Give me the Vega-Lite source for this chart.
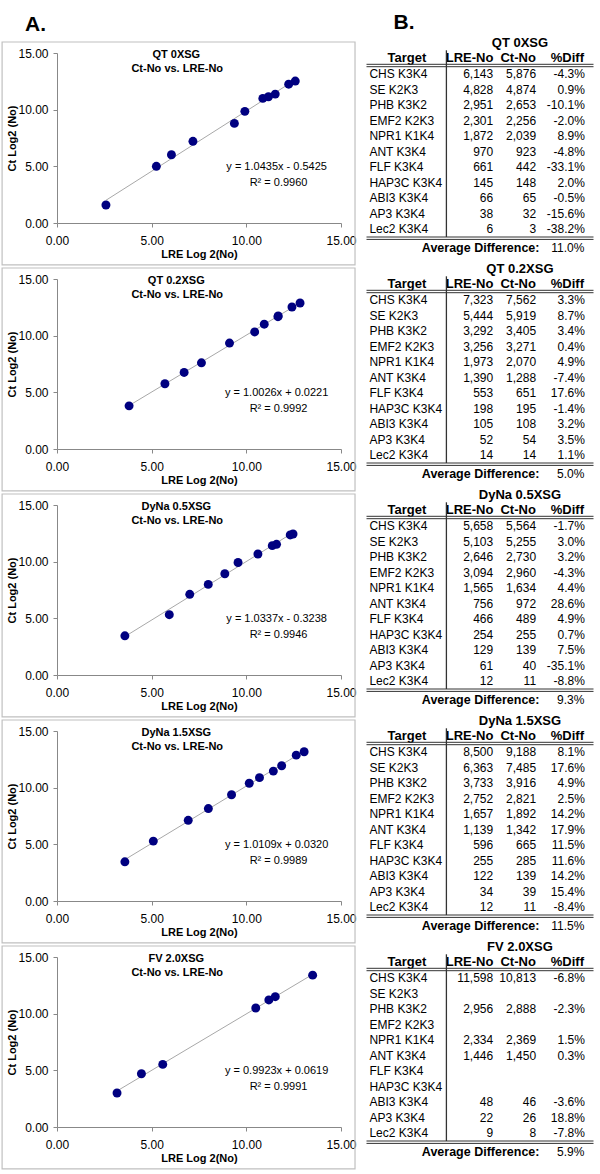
{
  "$schema": "https://vega.github.io/schema/vega-lite/v6.json",
  "background": "white",
  "padding": {"left": 1, "top": 12, "right": 0, "bottom": 0},
  "config": {"font": "Liberation Sans", "view": {"stroke": null}},
  "datasets": {
    "rows": [
      {"sample":"QT 0XSG","target":"CHS K3K4","lre":6143,"ct":5876,"diff":"-4.3%","lx":12.585,"ly":12.521},
      {"sample":"QT 0XSG","target":"SE K2K3","lre":4828,"ct":4874,"diff":"0.9%","lx":12.237,"ly":12.251},
      {"sample":"QT 0XSG","target":"PHB K3K2","lre":2951,"ct":2653,"diff":"-10.1%","lx":11.527,"ly":11.373},
      {"sample":"QT 0XSG","target":"EMF2 K2K3","lre":2301,"ct":2256,"diff":"-2.0%","lx":11.168,"ly":11.140},
      {"sample":"QT 0XSG","target":"NPR1 K1K4","lre":1872,"ct":2039,"diff":"8.9%","lx":10.870,"ly":10.994},
      {"sample":"QT 0XSG","target":"ANT K3K4","lre":970,"ct":923,"diff":"-4.8%","lx":9.922,"ly":9.850},
      {"sample":"QT 0XSG","target":"FLF K3K4","lre":661,"ct":442,"diff":"-33.1%","lx":9.369,"ly":8.788},
      {"sample":"QT 0XSG","target":"HAP3C K3K4","lre":145,"ct":148,"diff":"2.0%","lx":7.180,"ly":7.209},
      {"sample":"QT 0XSG","target":"ABI3 K3K4","lre":66,"ct":65,"diff":"-0.5%","lx":6.044,"ly":6.022},
      {"sample":"QT 0XSG","target":"AP3 K3K4","lre":38,"ct":32,"diff":"-15.6%","lx":5.248,"ly":5.000},
      {"sample":"QT 0XSG","target":"Lec2 K3K4","lre":6,"ct":3,"diff":"-38.2%","lx":2.585,"ly":1.585},
      {"sample":"QT 0.2XSG","target":"CHS K3K4","lre":7323,"ct":7562,"diff":"3.3%","lx":12.838,"ly":12.885},
      {"sample":"QT 0.2XSG","target":"SE K2K3","lre":5444,"ct":5919,"diff":"8.7%","lx":12.410,"ly":12.531},
      {"sample":"QT 0.2XSG","target":"PHB K3K2","lre":3292,"ct":3405,"diff":"3.4%","lx":11.685,"ly":11.733},
      {"sample":"QT 0.2XSG","target":"EMF2 K2K3","lre":3256,"ct":3271,"diff":"0.4%","lx":11.669,"ly":11.676},
      {"sample":"QT 0.2XSG","target":"NPR1 K1K4","lre":1973,"ct":2070,"diff":"4.9%","lx":10.946,"ly":11.015},
      {"sample":"QT 0.2XSG","target":"ANT K3K4","lre":1390,"ct":1288,"diff":"-7.4%","lx":10.441,"ly":10.331},
      {"sample":"QT 0.2XSG","target":"FLF K3K4","lre":553,"ct":651,"diff":"17.6%","lx":9.111,"ly":9.347},
      {"sample":"QT 0.2XSG","target":"HAP3C K3K4","lre":198,"ct":195,"diff":"-1.4%","lx":7.629,"ly":7.607},
      {"sample":"QT 0.2XSG","target":"ABI3 K3K4","lre":105,"ct":108,"diff":"3.2%","lx":6.714,"ly":6.755},
      {"sample":"QT 0.2XSG","target":"AP3 K3K4","lre":52,"ct":54,"diff":"3.5%","lx":5.700,"ly":5.755},
      {"sample":"QT 0.2XSG","target":"Lec2 K3K4","lre":14,"ct":14,"diff":"1.1%","lx":3.807,"ly":3.807},
      {"sample":"DyNa 0.5XSG","target":"CHS K3K4","lre":5658,"ct":5564,"diff":"-1.7%","lx":12.466,"ly":12.442},
      {"sample":"DyNa 0.5XSG","target":"SE K2K3","lre":5103,"ct":5255,"diff":"3.0%","lx":12.317,"ly":12.359},
      {"sample":"DyNa 0.5XSG","target":"PHB K3K2","lre":2646,"ct":2730,"diff":"3.2%","lx":11.370,"ly":11.415},
      {"sample":"DyNa 0.5XSG","target":"EMF2 K2K3","lre":3094,"ct":2960,"diff":"-4.3%","lx":11.595,"ly":11.531},
      {"sample":"DyNa 0.5XSG","target":"NPR1 K1K4","lre":1565,"ct":1634,"diff":"4.4%","lx":10.612,"ly":10.674},
      {"sample":"DyNa 0.5XSG","target":"ANT K3K4","lre":756,"ct":972,"diff":"28.6%","lx":9.562,"ly":9.925},
      {"sample":"DyNa 0.5XSG","target":"FLF K3K4","lre":466,"ct":489,"diff":"4.9%","lx":8.864,"ly":8.934},
      {"sample":"DyNa 0.5XSG","target":"HAP3C K3K4","lre":254,"ct":255,"diff":"0.7%","lx":7.989,"ly":7.994},
      {"sample":"DyNa 0.5XSG","target":"ABI3 K3K4","lre":129,"ct":139,"diff":"7.5%","lx":7.011,"ly":7.119},
      {"sample":"DyNa 0.5XSG","target":"AP3 K3K4","lre":61,"ct":40,"diff":"-35.1%","lx":5.931,"ly":5.322},
      {"sample":"DyNa 0.5XSG","target":"Lec2 K3K4","lre":12,"ct":11,"diff":"-8.8%","lx":3.585,"ly":3.459},
      {"sample":"DyNa 1.5XSG","target":"CHS K3K4","lre":8500,"ct":9188,"diff":"8.1%","lx":13.053,"ly":13.166},
      {"sample":"DyNa 1.5XSG","target":"SE K2K3","lre":6363,"ct":7485,"diff":"17.6%","lx":12.635,"ly":12.870},
      {"sample":"DyNa 1.5XSG","target":"PHB K3K2","lre":3733,"ct":3916,"diff":"4.9%","lx":11.866,"ly":11.935},
      {"sample":"DyNa 1.5XSG","target":"EMF2 K2K3","lre":2752,"ct":2821,"diff":"2.5%","lx":11.426,"ly":11.462},
      {"sample":"DyNa 1.5XSG","target":"NPR1 K1K4","lre":1657,"ct":1892,"diff":"14.2%","lx":10.694,"ly":10.886},
      {"sample":"DyNa 1.5XSG","target":"ANT K3K4","lre":1139,"ct":1342,"diff":"17.9%","lx":10.154,"ly":10.390},
      {"sample":"DyNa 1.5XSG","target":"FLF K3K4","lre":596,"ct":665,"diff":"11.5%","lx":9.219,"ly":9.377},
      {"sample":"DyNa 1.5XSG","target":"HAP3C K3K4","lre":255,"ct":285,"diff":"11.6%","lx":7.994,"ly":8.155},
      {"sample":"DyNa 1.5XSG","target":"ABI3 K3K4","lre":122,"ct":139,"diff":"14.2%","lx":6.931,"ly":7.119},
      {"sample":"DyNa 1.5XSG","target":"AP3 K3K4","lre":34,"ct":39,"diff":"15.4%","lx":5.087,"ly":5.285},
      {"sample":"DyNa 1.5XSG","target":"Lec2 K3K4","lre":12,"ct":11,"diff":"-8.4%","lx":3.585,"ly":3.459},
      {"sample":"FV 2.0XSG","target":"CHS K3K4","lre":11598,"ct":10813,"diff":"-6.8%","lx":13.502,"ly":13.400},
      {"sample":"FV 2.0XSG","target":"SE K2K3"},
      {"sample":"FV 2.0XSG","target":"PHB K3K2","lre":2956,"ct":2888,"diff":"-2.3%","lx":11.529,"ly":11.496},
      {"sample":"FV 2.0XSG","target":"EMF2 K2K3"},
      {"sample":"FV 2.0XSG","target":"NPR1 K1K4","lre":2334,"ct":2369,"diff":"1.5%","lx":11.189,"ly":11.210},
      {"sample":"FV 2.0XSG","target":"ANT K3K4","lre":1446,"ct":1450,"diff":"0.3%","lx":10.498,"ly":10.502},
      {"sample":"FV 2.0XSG","target":"FLF K3K4"},
      {"sample":"FV 2.0XSG","target":"HAP3C K3K4"},
      {"sample":"FV 2.0XSG","target":"ABI3 K3K4","lre":48,"ct":46,"diff":"-3.6%","lx":5.585,"ly":5.524},
      {"sample":"FV 2.0XSG","target":"AP3 K3K4","lre":22,"ct":26,"diff":"18.8%","lx":4.459,"ly":4.700},
      {"sample":"FV 2.0XSG","target":"Lec2 K3K4","lre":9,"ct":8,"diff":"-7.8%","lx":3.170,"ly":3.000}
    ],
    "summary": [
      {"sample":"QT 0XSG","avg":"11.0%","eq":"y = 1.0435x - 0.5425","r2":"R² = 0.9960"},
      {"sample":"QT 0.2XSG","avg":"5.0%","eq":"y = 1.0026x + 0.0221","r2":"R² = 0.9992"},
      {"sample":"DyNa 0.5XSG","avg":"9.3%","eq":"y = 1.0337x - 0.3238","r2":"R² = 0.9946"},
      {"sample":"DyNa 1.5XSG","avg":"11.5%","eq":"y = 1.0109x + 0.0320","r2":"R² = 0.9989"},
      {"sample":"FV 2.0XSG","avg":"5.9%","eq":"y = 0.9923x + 0.0619","r2":"R² = 0.9991"}
    ]
  },
  "spacing": 8.5,
  "hconcat": [
    {
      "data": {"name": "rows"},
      "transform": [{"lookup": "sample", "from": {"data": {"name": "summary"}, "key": "sample", "fields": ["avg", "eq", "r2"]}}],
      "facet": {"row": {"field": "sample", "type": "nominal", "sort": ["QT 0XSG","QT 0.2XSG","DyNa 0.5XSG","DyNa 1.5XSG","FV 2.0XSG"], "header": null}},
      "spacing": 56,
      "bounds": "flush",
      "resolve": {"axis": {"x": "independent", "y": "independent"}},
      "spec": {
        "width": 284,
        "height": 170,
        "layer": [
          {
            "transform": [{"filter": "datum.target === 'CHS K3K4'"}],
            "mark": {"type": "rect", "fill": "transparent", "stroke": "#c0c0c0", "strokeWidth": 1.2},
            "encoding": {
              "x": {"datum": -2.9, "type": "quantitative", "scale": {"domain": [0, 15], "nice": false, "zero": false}},
              "x2": {"datum": 15.74},
              "y": {"datum": 15.97, "type": "quantitative", "scale": {"domain": [0, 15], "nice": false, "zero": false}},
              "y2": {"datum": -3.7}
            }
          },
          {
            "transform": [{"filter": {"field": "lx", "valid": true}}, {"regression": "ly", "on": "lx", "groupby": ["sample"]}],
            "mark": {"type": "line", "color": "#a8a8a8", "strokeWidth": 1},
            "encoding": {
              "x": {"field": "lx", "type": "quantitative", "scale": {"domain": [0, 15], "nice": false, "zero": false}},
              "y": {"field": "ly", "type": "quantitative", "scale": {"domain": [0, 15], "nice": false, "zero": false}}
            }
          },
          {
            "transform": [{"filter": {"field": "lx", "valid": true}}],
            "mark": {"type": "circle", "size": 80, "color": "#000080", "opacity": 1},
            "encoding": {
              "x": {"field": "lx", "type": "quantitative", "scale": {"domain": [0, 15], "nice": false, "zero": false},
                "axis": {"title": "LRE Log 2(No)", "values": [0, 5, 10, 15], "format": ".2f", "grid": false, "domainColor": "#888888", "tickColor": "#888888", "tickSize": 4, "labelFontSize": 12, "labelColor": "black", "labelFlush": false, "labelOverlap": false, "labelPadding": 8, "titleFontSize": 11, "titleFontWeight": "bold", "titleColor": "black", "titlePadding": 2}},
              "y": {"field": "ly", "type": "quantitative", "scale": {"domain": [0, 15], "nice": false, "zero": false},
                "axis": {"title": "Ct Log2 (No)", "values": [0, 5, 10, 15], "format": ".2f", "grid": false, "domainColor": "#888888", "tickColor": "#888888", "tickSize": 4, "labelFontSize": 12, "labelColor": "black", "labelFlush": false, "labelOverlap": false, "labelPadding": 5, "titleFontSize": 11, "titleFontWeight": "bold", "titleColor": "black", "titlePadding": 0}}
            }
          },
          {
            "transform": [{"filter": "datum.target === 'CHS K3K4'"}],
            "mark": {"type": "text", "fontSize": 11, "fontWeight": "bold", "align": "center", "color": "black"},
            "encoding": {
              "text": {"field": "sample"},
              "x": {"datum": 6.3, "type": "quantitative", "scale": {"domain": [0, 15], "nice": false, "zero": false}},
              "y": {"datum": 14.83, "type": "quantitative", "scale": {"domain": [0, 15], "nice": false, "zero": false}}
            }
          },
          {
            "transform": [{"filter": "datum.target === 'CHS K3K4'"}],
            "mark": {"type": "text", "fontSize": 11, "fontWeight": "bold", "align": "center", "color": "black"},
            "encoding": {
              "text": {"value": "Ct-No vs. LRE-No"},
              "x": {"datum": 6.35, "type": "quantitative", "scale": {"domain": [0, 15], "nice": false, "zero": false}},
              "y": {"datum": 13.6, "type": "quantitative", "scale": {"domain": [0, 15], "nice": false, "zero": false}}
            }
          },
          {
            "transform": [{"filter": "datum.target === 'CHS K3K4'"}],
            "mark": {"type": "text", "fontSize": 11, "align": "center", "color": "black"},
            "encoding": {
              "text": {"field": "eq"},
              "x": {"datum": 11.6, "type": "quantitative", "scale": {"domain": [0, 15], "nice": false, "zero": false}},
              "y": {"datum": 4.97, "type": "quantitative", "scale": {"domain": [0, 15], "nice": false, "zero": false}}
            }
          },
          {
            "transform": [{"filter": "datum.target === 'CHS K3K4'"}],
            "mark": {"type": "text", "fontSize": 11, "align": "center", "color": "black"},
            "encoding": {
              "text": {"field": "r2"},
              "x": {"datum": 11.7, "type": "quantitative", "scale": {"domain": [0, 15], "nice": false, "zero": false}},
              "y": {"datum": 3.56, "type": "quantitative", "scale": {"domain": [0, 15], "nice": false, "zero": false}}
            }
          },
          {
            "transform": [{"filter": "datum.target === 'CHS K3K4' && datum.sample === 'QT 0XSG'"}],
            "mark": {"type": "text", "fontSize": 21, "fontWeight": "bold", "align": "left", "color": "black"},
            "encoding": {
              "text": {"value": "A."},
              "x": {"datum": -1.69, "type": "quantitative", "scale": {"domain": [0, 15], "nice": false, "zero": false}},
              "y": {"datum": 17.5, "type": "quantitative", "scale": {"domain": [0, 15], "nice": false, "zero": false}}
            }
          }
        ]
      }
    },
    {
      "data": {"name": "rows"},
      "transform": [{"lookup": "sample", "from": {"data": {"name": "summary"}, "key": "sample", "fields": ["avg"]}}],
      "facet": {"row": {"field": "sample", "type": "nominal", "sort": ["QT 0XSG","QT 0.2XSG","DyNa 0.5XSG","DyNa 1.5XSG","FV 2.0XSG"], "header": null}},
      "spacing": 56,
      "bounds": "flush",
      "spec": {
        "width": 227,
        "height": 170,
        "layer": [
          {
            "transform": [{"filter": "datum.target === 'CHS K3K4'"}],
            "mark": {"type": "text", "fontSize": 13, "fontWeight": "bold", "align": "center", "color": "black", "yOffset": -31.6},
            "encoding": {
              "text": {"field": "sample"},
              "x": {"datum": 67.6, "type": "quantitative", "scale": {"domain": [0, 100], "nice": false, "zero": false}, "axis": null},
              "y": {"datum": "CHS K3K4", "type": "nominal", "scale": {"type": "point", "domain": ["CHS K3K4","SE K2K3","PHB K3K2","EMF2 K2K3","NPR1 K1K4","ANT K3K4","FLF K3K4","HAP3C K3K4","ABI3 K3K4","AP3 K3K4","Lec2 K3K4"], "range": [21.3, 176.3], "padding": 0}, "axis": null}
            }
          },
          {
            "transform": [{"filter": "datum.target === 'CHS K3K4'"}],
            "mark": {"type": "text", "fontSize": 13, "fontWeight": "bold", "align": "center", "color": "black", "yOffset": -16.6},
            "encoding": {
              "text": {"value": "Target"},
              "x": {"datum": 17.8, "type": "quantitative", "scale": {"domain": [0, 100], "nice": false, "zero": false}, "axis": null},
              "y": {"datum": "CHS K3K4", "type": "nominal", "scale": {"type": "point", "domain": ["CHS K3K4","SE K2K3","PHB K3K2","EMF2 K2K3","NPR1 K1K4","ANT K3K4","FLF K3K4","HAP3C K3K4","ABI3 K3K4","AP3 K3K4","Lec2 K3K4"], "range": [21.3, 176.3], "padding": 0}, "axis": null}
            }
          },
          {
            "transform": [{"filter": "datum.target === 'CHS K3K4'"}],
            "mark": {"type": "text", "fontSize": 13, "fontWeight": "bold", "align": "right", "color": "black", "yOffset": -16.6},
            "encoding": {
              "text": {"value": "LRE-No"},
              "x": {"datum": 55.9, "type": "quantitative", "scale": {"domain": [0, 100], "nice": false, "zero": false}, "axis": null},
              "y": {"datum": "CHS K3K4", "type": "nominal", "scale": {"type": "point", "domain": ["CHS K3K4","SE K2K3","PHB K3K2","EMF2 K2K3","NPR1 K1K4","ANT K3K4","FLF K3K4","HAP3C K3K4","ABI3 K3K4","AP3 K3K4","Lec2 K3K4"], "range": [21.3, 176.3], "padding": 0}, "axis": null}
            }
          },
          {
            "transform": [{"filter": "datum.target === 'CHS K3K4'"}],
            "mark": {"type": "text", "fontSize": 13, "fontWeight": "bold", "align": "right", "color": "black", "yOffset": -16.6},
            "encoding": {
              "text": {"value": "Ct-No"},
              "x": {"datum": 74.6, "type": "quantitative", "scale": {"domain": [0, 100], "nice": false, "zero": false}, "axis": null},
              "y": {"datum": "CHS K3K4", "type": "nominal", "scale": {"type": "point", "domain": ["CHS K3K4","SE K2K3","PHB K3K2","EMF2 K2K3","NPR1 K1K4","ANT K3K4","FLF K3K4","HAP3C K3K4","ABI3 K3K4","AP3 K3K4","Lec2 K3K4"], "range": [21.3, 176.3], "padding": 0}, "axis": null}
            }
          },
          {
            "transform": [{"filter": "datum.target === 'CHS K3K4'"}],
            "mark": {"type": "text", "fontSize": 13, "fontWeight": "bold", "align": "right", "color": "black", "yOffset": -16.6},
            "encoding": {
              "text": {"value": "%Diff"},
              "x": {"datum": 95.8, "type": "quantitative", "scale": {"domain": [0, 100], "nice": false, "zero": false}, "axis": null},
              "y": {"datum": "CHS K3K4", "type": "nominal", "scale": {"type": "point", "domain": ["CHS K3K4","SE K2K3","PHB K3K2","EMF2 K2K3","NPR1 K1K4","ANT K3K4","FLF K3K4","HAP3C K3K4","ABI3 K3K4","AP3 K3K4","Lec2 K3K4"], "range": [21.3, 176.3], "padding": 0}, "axis": null}
            }
          },
          {
            "mark": {"type": "text", "fontSize": 12, "align": "left", "color": "black"},
            "encoding": {
              "text": {"field": "target"},
              "x": {"datum": 1.3, "type": "quantitative", "scale": {"domain": [0, 100], "nice": false, "zero": false}, "axis": null},
              "y": {"field": "target", "type": "nominal", "scale": {"type": "point", "domain": ["CHS K3K4","SE K2K3","PHB K3K2","EMF2 K2K3","NPR1 K1K4","ANT K3K4","FLF K3K4","HAP3C K3K4","ABI3 K3K4","AP3 K3K4","Lec2 K3K4"], "range": [21.3, 176.3], "padding": 0}, "axis": null}
            }
          },
          {
            "transform": [{"filter": "isValid(datum.lre)"}],
            "mark": {"type": "text", "fontSize": 12, "align": "right", "color": "black"},
            "encoding": {
              "text": {"field": "lre", "type": "quantitative", "format": ",d"},
              "x": {"datum": 55.8, "type": "quantitative", "scale": {"domain": [0, 100], "nice": false, "zero": false}, "axis": null},
              "y": {"field": "target", "type": "nominal", "scale": {"type": "point", "domain": ["CHS K3K4","SE K2K3","PHB K3K2","EMF2 K2K3","NPR1 K1K4","ANT K3K4","FLF K3K4","HAP3C K3K4","ABI3 K3K4","AP3 K3K4","Lec2 K3K4"], "range": [21.3, 176.3], "padding": 0}, "axis": null}
            }
          },
          {
            "transform": [{"filter": "isValid(datum.ct)"}],
            "mark": {"type": "text", "fontSize": 12, "align": "right", "color": "black"},
            "encoding": {
              "text": {"field": "ct", "type": "quantitative", "format": ",d"},
              "x": {"datum": 74.7, "type": "quantitative", "scale": {"domain": [0, 100], "nice": false, "zero": false}, "axis": null},
              "y": {"field": "target", "type": "nominal", "scale": {"type": "point", "domain": ["CHS K3K4","SE K2K3","PHB K3K2","EMF2 K2K3","NPR1 K1K4","ANT K3K4","FLF K3K4","HAP3C K3K4","ABI3 K3K4","AP3 K3K4","Lec2 K3K4"], "range": [21.3, 176.3], "padding": 0}, "axis": null}
            }
          },
          {
            "transform": [{"filter": "isValid(datum.diff)"}],
            "mark": {"type": "text", "fontSize": 12, "align": "right", "color": "black"},
            "encoding": {
              "text": {"field": "diff", "type": "nominal"},
              "x": {"datum": 96.2, "type": "quantitative", "scale": {"domain": [0, 100], "nice": false, "zero": false}, "axis": null},
              "y": {"field": "target", "type": "nominal", "scale": {"type": "point", "domain": ["CHS K3K4","SE K2K3","PHB K3K2","EMF2 K2K3","NPR1 K1K4","ANT K3K4","FLF K3K4","HAP3C K3K4","ABI3 K3K4","AP3 K3K4","Lec2 K3K4"], "range": [21.3, 176.3], "padding": 0}, "axis": null}
            }
          },
          {
            "transform": [{"filter": "datum.target === 'CHS K3K4'"}],
            "mark": {"type": "rule", "color": "#333333", "strokeWidth": 1, "yOffset": -10},
            "encoding": {
              "x": {"datum": 0, "type": "quantitative", "scale": {"domain": [0, 100], "nice": false, "zero": false}, "axis": null},
              "x2": {"datum": 100},
              "y": {"datum": "CHS K3K4", "type": "nominal", "scale": {"type": "point", "domain": ["CHS K3K4","SE K2K3","PHB K3K2","EMF2 K2K3","NPR1 K1K4","ANT K3K4","FLF K3K4","HAP3C K3K4","ABI3 K3K4","AP3 K3K4","Lec2 K3K4"], "range": [21.3, 176.3], "padding": 0}, "axis": null}
            }
          },
          {
            "transform": [{"filter": "datum.target === 'CHS K3K4'"}],
            "mark": {"type": "rule", "color": "#333333", "strokeWidth": 1, "yOffset": -7.6},
            "encoding": {
              "x": {"datum": 0, "type": "quantitative", "scale": {"domain": [0, 100], "nice": false, "zero": false}, "axis": null},
              "x2": {"datum": 100},
              "y": {"datum": "CHS K3K4", "type": "nominal", "scale": {"type": "point", "domain": ["CHS K3K4","SE K2K3","PHB K3K2","EMF2 K2K3","NPR1 K1K4","ANT K3K4","FLF K3K4","HAP3C K3K4","ABI3 K3K4","AP3 K3K4","Lec2 K3K4"], "range": [21.3, 176.3], "padding": 0}, "axis": null}
            }
          },
          {
            "transform": [{"filter": "datum.target === 'CHS K3K4'"}],
            "mark": {"type": "rule", "color": "#333333", "strokeWidth": 1, "yOffset": 7.7},
            "encoding": {
              "x": {"datum": 0, "type": "quantitative", "scale": {"domain": [0, 100], "nice": false, "zero": false}, "axis": null},
              "x2": {"datum": 100},
              "y": {"datum": "Lec2 K3K4", "type": "nominal", "scale": {"type": "point", "domain": ["CHS K3K4","SE K2K3","PHB K3K2","EMF2 K2K3","NPR1 K1K4","ANT K3K4","FLF K3K4","HAP3C K3K4","ABI3 K3K4","AP3 K3K4","Lec2 K3K4"], "range": [21.3, 176.3], "padding": 0}, "axis": null}
            }
          },
          {
            "transform": [{"filter": "datum.target === 'CHS K3K4'"}],
            "mark": {"type": "rule", "color": "#333333", "strokeWidth": 1, "yOffset": 10.1},
            "encoding": {
              "x": {"datum": 0, "type": "quantitative", "scale": {"domain": [0, 100], "nice": false, "zero": false}, "axis": null},
              "x2": {"datum": 100},
              "y": {"datum": "Lec2 K3K4", "type": "nominal", "scale": {"type": "point", "domain": ["CHS K3K4","SE K2K3","PHB K3K2","EMF2 K2K3","NPR1 K1K4","ANT K3K4","FLF K3K4","HAP3C K3K4","ABI3 K3K4","AP3 K3K4","Lec2 K3K4"], "range": [21.3, 176.3], "padding": 0}, "axis": null}
            }
          },
          {
            "transform": [{"filter": "datum.target === 'CHS K3K4'"}],
            "mark": {"type": "rule", "color": "#333333", "strokeWidth": 1.3, "yOffset": -24, "y2Offset": 7.7},
            "encoding": {
              "x": {"datum": 35.2, "type": "quantitative", "scale": {"domain": [0, 100], "nice": false, "zero": false}, "axis": null},
              "y": {"datum": "CHS K3K4", "type": "nominal", "scale": {"type": "point", "domain": ["CHS K3K4","SE K2K3","PHB K3K2","EMF2 K2K3","NPR1 K1K4","ANT K3K4","FLF K3K4","HAP3C K3K4","ABI3 K3K4","AP3 K3K4","Lec2 K3K4"], "range": [21.3, 176.3], "padding": 0}, "axis": null},
              "y2": {"datum": "Lec2 K3K4"}
            }
          },
          {
            "transform": [{"filter": "datum.target === 'CHS K3K4'"}],
            "mark": {"type": "text", "fontSize": 12.5, "fontWeight": "bold", "align": "right", "color": "black", "yOffset": 18.4},
            "encoding": {
              "text": {"value": "Average Difference:"},
              "x": {"datum": 76.2, "type": "quantitative", "scale": {"domain": [0, 100], "nice": false, "zero": false}, "axis": null},
              "y": {"datum": "Lec2 K3K4", "type": "nominal", "scale": {"type": "point", "domain": ["CHS K3K4","SE K2K3","PHB K3K2","EMF2 K2K3","NPR1 K1K4","ANT K3K4","FLF K3K4","HAP3C K3K4","ABI3 K3K4","AP3 K3K4","Lec2 K3K4"], "range": [21.3, 176.3], "padding": 0}, "axis": null}
            }
          },
          {
            "transform": [{"filter": "datum.target === 'CHS K3K4'"}],
            "mark": {"type": "text", "fontSize": 12, "align": "right", "color": "black", "yOffset": 18.4},
            "encoding": {
              "text": {"field": "avg"},
              "x": {"datum": 96.0, "type": "quantitative", "scale": {"domain": [0, 100], "nice": false, "zero": false}, "axis": null},
              "y": {"datum": "Lec2 K3K4", "type": "nominal", "scale": {"type": "point", "domain": ["CHS K3K4","SE K2K3","PHB K3K2","EMF2 K2K3","NPR1 K1K4","ANT K3K4","FLF K3K4","HAP3C K3K4","ABI3 K3K4","AP3 K3K4","Lec2 K3K4"], "range": [21.3, 176.3], "padding": 0}, "axis": null}
            }
          },
          {
            "transform": [{"filter": "datum.target === 'CHS K3K4' && datum.sample === 'QT 0XSG'"}],
            "mark": {"type": "text", "fontSize": 21, "fontWeight": "bold", "align": "left", "color": "black", "yOffset": -51.3},
            "encoding": {
              "text": {"value": "B."},
              "x": {"datum": 11.9, "type": "quantitative", "scale": {"domain": [0, 100], "nice": false, "zero": false}, "axis": null},
              "y": {"datum": "CHS K3K4", "type": "nominal", "scale": {"type": "point", "domain": ["CHS K3K4","SE K2K3","PHB K3K2","EMF2 K2K3","NPR1 K1K4","ANT K3K4","FLF K3K4","HAP3C K3K4","ABI3 K3K4","AP3 K3K4","Lec2 K3K4"], "range": [21.3, 176.3], "padding": 0}, "axis": null}
            }
          }
        ]
      }
    }
  ]
}
